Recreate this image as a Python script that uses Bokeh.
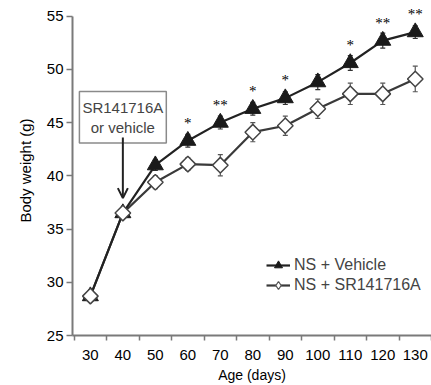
import numpy as np
from bokeh.plotting import figure
from bokeh.models import (ColumnDataSource, FixedTicker, Whisker, TeeHead, Label, Arrow,
                          OpenHead, Legend, LegendItem, Range1d)
from bokeh.embed import file_html
from bokeh.resources import INLINE

age = [30, 40, 50, 60, 70, 80, 90, 100, 110, 120, 130]
vehicle = [28.7, 36.5, 41.0, 43.3, 45.0, 46.3, 47.3, 48.8, 50.6, 52.7, 53.5]
vehicle_err = [0.3, 0.4, 0.5, 0.6, 0.6, 0.6, 0.6, 0.7, 0.7, 0.7, 0.6]
sr = [28.7, 36.5, 39.4, 41.1, 41.0, 44.1, 44.7, 46.3, 47.7, 47.7, 49.1]
sr_err = [0.4, 0.5, 0.6, 0.6, 1.0, 0.9, 0.9, 0.9, 1.0, 1.0, 1.2]
sig = ["", "", "", "*", "**", "*", "*", "", "*", "**", "**"]
y_ticks = [25, 30, 35, 40, 45, 50, 55]
x_minor = [25, 35, 45, 55, 65, 75, 85, 95, 105, 115, 125, 135]

FONT = "Liberation Sans"
AX = "#7a7a7a"

src = ColumnDataSource(dict(
    x=age, v=vehicle, s=sr,
    vu=np.array(vehicle) + np.array(vehicle_err), vl=np.array(vehicle) - np.array(vehicle_err),
    su=np.array(sr) + np.array(sr_err), sl=np.array(sr) - np.array(sr_err),
    sig=sig,
))

p = figure(width=431, height=385, output_backend="svg", toolbar_location=None,
           x_range=Range1d(24.5, 135), y_range=Range1d(25, 56),
           min_border_left=72, min_border_right=0, min_border_top=5, min_border_bottom=50)
p.outline_line_color = None
p.grid.visible = False
p.background_fill_color = "white"

# error bars
for up, lo, col in [("vu", "vl", "#333333"), ("su", "sl", "#555555")]:
    w = Whisker(source=src, base="x", upper=up, lower=lo, line_color=col, line_width=1.2,
                upper_head=TeeHead(size=5, line_color=col, line_width=1.2),
                lower_head=TeeHead(size=5, line_color=col, line_width=1.2), level="underlay")
    p.add_layout(w)

sl_r = p.line("x", "s", source=src, line_color="#3a3a3a", line_width=2.2)
vl_r = p.line("x", "v", source=src, line_color="#222222", line_width=2.2)
# small diamonds hidden under the open markers; they give the legend its diamond glyph
sd_r = p.scatter("x", "s", source=src, marker="diamond", size=8,
                 fill_color="white", line_color="#555555", line_width=1.3)
vm_r = p.scatter("x", "v", source=src, marker="triangle", size=16, fill_color="#1a1a1a",
                 line_color="#1a1a1a")
sm_r = p.scatter("x", "s", source=src, marker="square", angle=np.pi / 4, size=11,
                 fill_color="white", line_color="#444444", line_width=1.5)

p.text("x", "v", text="sig", source=src, text_align="center", text_baseline="middle",
       y_offset=-18, text_font_size="15px", text_color="black", text_font=FONT)

# annotation
lab = Label(x=40, y=45.5, text="SR141716A\nor vehicle", text_align="center",
            text_baseline="middle", text_font_size="15px", text_font=FONT,
            border_line_color="#8a8a8a", border_line_width=1.5,
            background_fill_color="white", padding=(3, 7))
p.add_layout(lab)
p.add_layout(Arrow(x_start=40, y_start=43.6, x_end=40, y_end=37.9,
                   line_color="#222222", line_width=2,
                   end=OpenHead(size=10, line_color="#222222", line_width=2)))

leg = Legend(items=[LegendItem(label="NS + Vehicle", renderers=[vl_r, vm_r]),
                    LegendItem(label="NS + SR141716A", renderers=[sl_r, sd_r])],
             location=(194, 40), border_line_color=None, background_fill_alpha=0,
             label_text_font_size="16px", label_text_font=FONT, glyph_width=24,
             glyph_height=20, label_height=20, spacing=0, padding=0, margin=0,
             label_standoff=4)
p.add_layout(leg)

# axes
p.xaxis.ticker = FixedTicker(ticks=age, minor_ticks=x_minor)
p.yaxis.ticker = FixedTicker(ticks=y_ticks)
p.yaxis.bounds = (25, 55)
for ax in (p.xaxis, p.yaxis):
    ax.axis_line_color = AX
    ax.axis_line_width = 2
    ax.major_label_text_font = FONT
    ax.major_label_text_font_size = "15px"
    ax.major_label_text_color = "black"
    ax.axis_label_text_font = FONT
    ax.axis_label_text_font_size = "15px"
    ax.axis_label_text_font_style = "normal"
    ax.axis_label_text_color = "black"
p.xaxis.major_tick_line_color = None
p.xaxis.major_tick_out = 0
p.xaxis.major_tick_in = 0
p.xaxis.minor_tick_line_color = AX
p.xaxis.minor_tick_line_width = 1.5
p.xaxis.minor_tick_out = 5
p.xaxis.minor_tick_in = 0
p.xaxis.major_label_standoff = 9
p.xaxis.axis_label = "Age (days)"
p.xaxis.axis_label_standoff = 4
p.xaxis.axis_label_text_font_size = "14px"
p.yaxis.major_tick_line_color = AX
p.yaxis.major_tick_line_width = 1.5
p.yaxis.major_tick_out = 6
p.yaxis.major_tick_in = 0
p.yaxis.minor_tick_line_color = None
p.yaxis.major_label_standoff = 3
p.yaxis.axis_label = "Body weight (g)"
p.yaxis.axis_label_standoff = 10

open("out.html", "w").write(file_html(p, INLINE))
